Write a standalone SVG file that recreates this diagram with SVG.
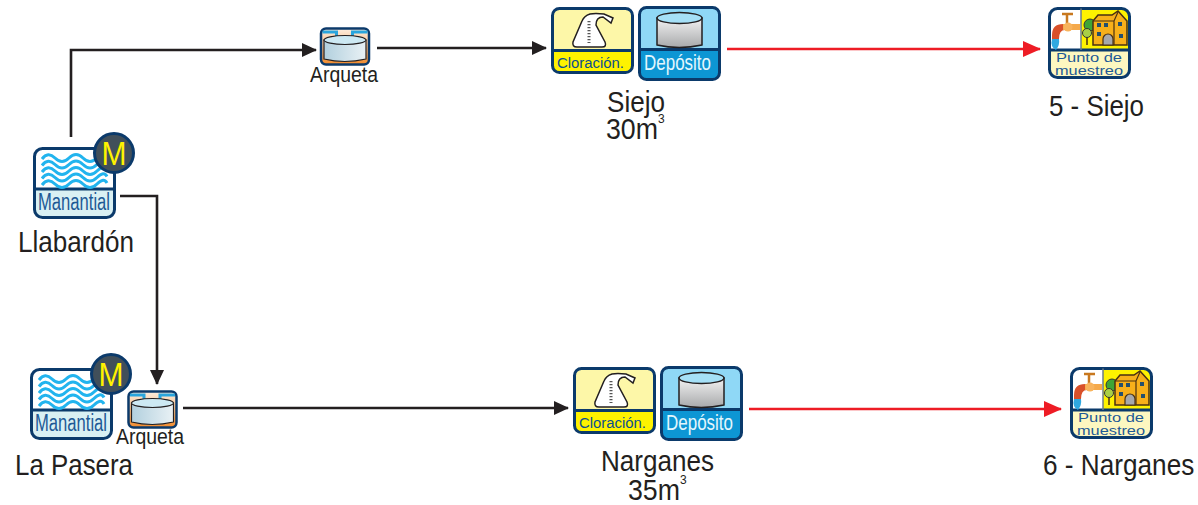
<svg xmlns="http://www.w3.org/2000/svg" width="1198" height="505" viewBox="0 0 1198 505">
<style>
text{font-family:"Liberation Sans",Arial,sans-serif;fill:#231f20}
.lbl{font-size:30px}
.outline{fill:none;stroke:#0b3a6b;stroke-width:3}
.wave{fill:none;stroke:#22b4ee;stroke-width:3}
.blk{fill:none;stroke:#231f20;stroke-width:2.600}
.red{fill:none;stroke:#ee1c25;stroke-width:2.600}
</style>
<defs>
<linearGradient id="tank" x1="0" y1="0" x2="0" y2="1"><stop offset="0" stop-color="#f2f2f2"/><stop offset="1" stop-color="#a8a9ab"/></linearGradient>
<linearGradient id="tankb" x1="0" y1="0" x2="1" y2="0"><stop offset="0" stop-color="#b2d0de"/><stop offset="1" stop-color="#e9f1f5"/></linearGradient>
<linearGradient id="arq" x1="0" y1="0" x2="0" y2="1"><stop offset="0" stop-color="#fdeee0"/><stop offset="1" stop-color="#f08a2c"/></linearGradient>
<marker id="ab" markerUnits="userSpaceOnUse" markerWidth="16" markerHeight="16" refX="14" refY="7" orient="auto"><path d="M0 0L15 7L0 14Z" fill="#231f20"/></marker>
<marker id="ar" markerUnits="userSpaceOnUse" markerWidth="20" markerHeight="18" refX="17" refY="8" orient="auto"><path d="M0 0L18 8L0 16Z" fill="#ee1c25"/></marker>
<path id="w" d="M9 12Q15 4 22 11T36 11T50 11T64 11T74 10"/>
<g id="manantial">
<rect x="1.500" y="1.500" width="80" height="69" rx="8" fill="#d9f0f3"/>
<path d="M1.500 40V9.500a8 8 0 0 1 8-8h64a8 8 0 0 1 8 8V40q0 2-2 2H3.500q-2 0-2-2Z" fill="#fff"/>
<rect x="1.500" y="1.500" width="80" height="69" rx="8" class="outline"/>
<path d="M1.500 42H81.500" class="outline"/>
<g class="wave">
<use href="#w"/><use href="#w" y="6.500"/><use href="#w" y="13"/><use href="#w" y="19.500"/><use href="#w" y="26"/>
</g>
<text x="41" y="63" text-anchor="middle" font-size="23" textLength="72" lengthAdjust="spacingAndGlyphs" style="fill:#1e5a96">Manantial</text>
<circle cx="81" cy="6" r="19.500" fill="#414f5a" stroke="#0b3a6b" stroke-width="3"/>
<text x="81" y="18" text-anchor="middle" font-size="34" textLength="25" lengthAdjust="spacingAndGlyphs" style="fill:#fff200">M</text>
</g>
<g id="cloracion">
<rect x="1.500" y="1.500" width="80" height="64" rx="7" fill="#fef200"/>
<path d="M1.500 43V8.500a7 7 0 0 1 7-7h66a7 7 0 0 1 7 7V43Z" fill="#fdf7a8"/>
<rect x="1.500" y="1.500" width="80" height="64" rx="7" class="outline"/>
<path d="M1.500 43.500H81.500" class="outline"/>
<path d="M31 14L22 35Q21 40 26 40H51Q56 40 54 35L45 18Q45 10 52 10L60 16 62 11 53 7Q44 6 39 7Q33 9 31 14Z" fill="#fff" stroke="#231f20" stroke-width="1.500"/>
<path d="M38 14V36" stroke="#555" stroke-width="3" stroke-dasharray="1.200 1.800"/>
<text x="39.500" y="61" text-anchor="middle" font-size="15.500" textLength="67" lengthAdjust="spacingAndGlyphs" style="fill:#0b4f8f">Cloración.</text>
</g>
<g id="deposito">
<rect x="1.500" y="1.500" width="80" height="72" rx="7" fill="#0d96d4"/>
<path d="M1.500 43V8.500a7 7 0 0 1 7-7h66a7 7 0 0 1 7 7V43Z" fill="#8fd8f6"/>
<rect x="1.500" y="1.500" width="80" height="72" rx="7" class="outline"/>
<path d="M1.500 43.500H81.500" class="outline"/>
<path d="M19 12V39Q41 44 64 39V12Z" fill="url(#tank)" stroke="#231f20" stroke-width="1.500"/>
<ellipse cx="41.500" cy="12" rx="22.500" ry="5.500" fill="#a5e0f7" stroke="#231f20" stroke-width="1.500"/>
<text x="39.500" y="64" text-anchor="middle" font-size="21.500" textLength="67" lengthAdjust="spacingAndGlyphs" style="fill:#e3f6fd">Depósito</text>
</g>
<g id="punto">
<rect x="1.500" y="1.500" width="80" height="69" rx="8" fill="#fdf7c0"/>
<path d="M33 1.500H73.500a8 8 0 0 1 8 8V43H33Z" fill="#fef200"/>
<path d="M33 1.500V43H1.500V9.500a8 8 0 0 1 8-8Z" fill="#fff"/>
<rect x="1.500" y="1.500" width="80" height="69" rx="8" class="outline"/>
<path d="M1.500 43H81.500" class="outline"/>
<path d="M33 1.500V43" stroke="#6b7b88" stroke-width="1.500"/>
<path d="M19 16V7M14 7H25" stroke="#c8781f" stroke-width="2.500" fill="none"/>
<path d="M4 32V28Q4 17 15 17H32V23H17Q11 23 11 32Z" fill="#d9502a"/>
<path d="M15 17H32V23H15Z" fill="#f5a94a"/>
<circle cx="20" cy="20" r="4.500" fill="#f8b35c"/>
<path d="M4 32H11Q12 38 8 43Q2 40 4 32Z" fill="#2fa8e0"/>
<path d="M39 25V38" stroke="#4a3112" stroke-width="1.500"/>
<circle cx="42" cy="18" r="6" fill="#3fa535" stroke="#333" stroke-width="1"/>
<circle cx="39" cy="26" r="4.500" fill="#a9cf46" stroke="#333" stroke-width="1"/>
<path d="M45 38V14L50 8H64L70 4 79 14V38Z" fill="#f7b01a" stroke="#4a3112" stroke-width="1.500"/>
<path d="M45 14H66L70 5M66 14V38" stroke="#4a3112" stroke-width="1.200" fill="none"/>
<path d="M49 16h4v4h-4ZM56 16h4v4h-4ZM70 15h4v4h-4ZM49 25h4v4h-4ZM71 27h4v4h-4Z" fill="#24506e"/>
<path d="M55 38V32a5 5 0 0 1 10 0V38Z" fill="#a6a8ab" stroke="#4a3112" stroke-width="1.200"/>
<text x="41" y="55" text-anchor="middle" font-size="13.500" textLength="66" lengthAdjust="spacingAndGlyphs" style="fill:#1e5a96">Punto de</text>
<text x="41" y="67.500" text-anchor="middle" font-size="13.500" textLength="68" lengthAdjust="spacingAndGlyphs" style="fill:#1e5a96">muestreo</text>
</g>
<g id="arqueta">
<rect x="1.500" y="1.500" width="48" height="36" rx="5" fill="url(#arq)" stroke="#0b3a6b" stroke-width="2.500"/>
<path d="M3 5H17V12M48 5H33V12" fill="none" stroke="#29a5dd" stroke-width="3"/>
<path d="M4.500 13V32Q25 37 46.500 32V13Z" fill="url(#tankb)" stroke="#231f20" stroke-width="1.200"/>
<ellipse cx="25.500" cy="13" rx="21" ry="4.500" fill="#cde9f3" stroke="#231f20" stroke-width="1.200"/>
</g>
</defs>
<g id="connectors">
<path class="blk" d="M71 137V50H316" marker-end="url(#ab)"/>
<path class="blk" d="M377 48H546" marker-end="url(#ab)"/>
<path class="red" d="M727 49H1040" marker-end="url(#ar)"/>
<path class="blk" d="M120 196H157V384" marker-end="url(#ab)"/>
<path class="blk" d="M183 408H568" marker-end="url(#ab)"/>
<path class="red" d="M749 409H1061" marker-end="url(#ar)"/>
</g>
<g id="llabardon"><use href="#manantial" x="33" y="147"/><text class="lbl" x="18" y="252" textLength="116" lengthAdjust="spacingAndGlyphs">Llabardón</text></g>
<g id="arqueta1"><use href="#arqueta" x="319.500" y="27"/><text x="310" y="82" font-size="22" textLength="68" lengthAdjust="spacingAndGlyphs">Arqueta</text></g>
<g id="siejo"><use href="#cloracion" x="551" y="7"/><use href="#deposito" x="638" y="6"/>
<text class="lbl" x="607" y="112" textLength="58" lengthAdjust="spacingAndGlyphs">Siejo</text>
<text class="lbl" x="606" y="139" textLength="52" lengthAdjust="spacingAndGlyphs">30m</text>
<text x="658" y="123" font-size="12">3</text></g>
<g id="punto5"><use href="#punto" x="1048" y="7"/><text class="lbl" x="1049" y="116" textLength="95" lengthAdjust="spacingAndGlyphs">5 - Siejo</text></g>
<g id="lapasera"><use href="#manantial" x="30" y="368"/><text class="lbl" x="15" y="475" textLength="118" lengthAdjust="spacingAndGlyphs">La Pasera</text></g>
<g id="arqueta2"><use href="#arqueta" x="127" y="390"/><text x="116" y="444" font-size="22" textLength="68" lengthAdjust="spacingAndGlyphs">Arqueta</text></g>
<g id="narganes"><use href="#cloracion" x="573" y="367"/><use href="#deposito" x="660" y="366"/>
<text class="lbl" x="601" y="471" textLength="113" lengthAdjust="spacingAndGlyphs">Narganes</text>
<text class="lbl" x="628" y="500" textLength="52" lengthAdjust="spacingAndGlyphs">35m</text>
<text x="680" y="484" font-size="12">3</text></g>
<g id="punto6"><use href="#punto" x="1070" y="367"/><text class="lbl" transform="translate(1043 475) scale(.873 1)">6 - Narganes</text></g>
</svg>
